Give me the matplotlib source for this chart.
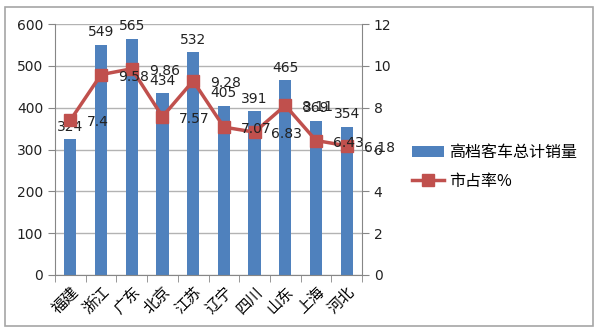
import matplotlib.pyplot as plt
import matplotlib.patches as mpatches
import numpy as np

plt.rcParams['font.family'] = ['DejaVu Sans', 'Noto Sans CJK SC']

# provinces and values
provinces = ['福建', '浙江', '广东', '北京', '江苏', '辽宁', '四川', '山东', '上海', '河北']
sales = [324, 549, 565, 434, 532, 405, 391, 465, 369, 354]
share = [7.4, 9.58, 9.86, 7.57, 9.28, 7.07, 6.83, 8.11, 6.43, 6.18]

bar_color = '#4F81BD'
line_color = '#C0504D'
axis_gray = '#868686'
grid_gray = '#B3B3B3'

fig = plt.figure(figsize=(6, 3.36), dpi=100)
# outer chart frame
fig.patches.append(mpatches.Rectangle((5/600, 1-326/336), 588/600, 319/336,
                                      transform=fig.transFigure, fill=False,
                                      edgecolor='#A6A6A6', linewidth=1.2))

ax1 = fig.add_axes([55/600, 1-275/336, 307/600, 251/336])
x = np.arange(len(provinces))
ax1.bar(x, sales, width=0.4, color=bar_color, zorder=2, label='高档客车总计销量')
for xi, v in zip(x, sales):
    ax1.text(xi, v + 14, str(v), ha='center', va='bottom', fontsize=10, color='#222222', zorder=5)

ax1.set_xlim(-0.5, len(provinces) - 0.5)
ax1.set_ylim(0, 600)
ax1.set_yticks(np.arange(0, 601, 100))
ax1.yaxis.grid(True, color=grid_gray, linewidth=1, zorder=0)
ax1.set_axisbelow(True)
ax1.set_xticks(x)
ax1.set_xticklabels(provinces, rotation=45, ha='right', rotation_mode='anchor',
                    family=['Noto Sans CJK SC'], fontsize=11)
ax1.set_xticks(np.arange(-0.5, len(provinces)), minor=True)
ax1.tick_params(axis='x', which='major', length=0, pad=6)
ax1.tick_params(axis='x', which='minor', length=5, color=axis_gray)
ax1.tick_params(axis='y', length=5, color=axis_gray, labelsize=10, labelcolor='#222222')
for s in ['top', 'right']:
    ax1.spines[s].set_visible(False)
for s in ['left', 'bottom']:
    ax1.spines[s].set_color(axis_gray)

ax2 = ax1.twinx()
ax2.plot(x, share, color=line_color, linewidth=2.5, marker='s', markersize=8.5,
         zorder=4, label='市占率%')
for xi, v in zip(x, share):
    ax2.text(xi + 0.55, v - 0.1, f'{v:g}', ha='left', va='center', fontsize=10,
             color='#222222', zorder=6)
ax2.set_ylim(0, 12)
ax2.set_yticks(np.arange(0, 13, 2))
ax2.tick_params(axis='y', length=5, color=axis_gray, labelsize=10, labelcolor='#222222')
for s in ['top', 'left', 'bottom']:
    ax2.spines[s].set_visible(False)
ax2.spines['right'].set_color(axis_gray)

h1, l1 = ax1.get_legend_handles_labels()
h2, l2 = ax2.get_legend_handles_labels()
fig.legend(h1 + h2, l1 + l2, loc='center left', bbox_to_anchor=(398/600, 1-167/336),
           frameon=False, prop={'family': ['Noto Sans CJK SC'], 'size': 11.5},
           handlelength=2.0, handletextpad=0.3, labelspacing=0.75)

fig.savefig('out.png', dpi=100)
